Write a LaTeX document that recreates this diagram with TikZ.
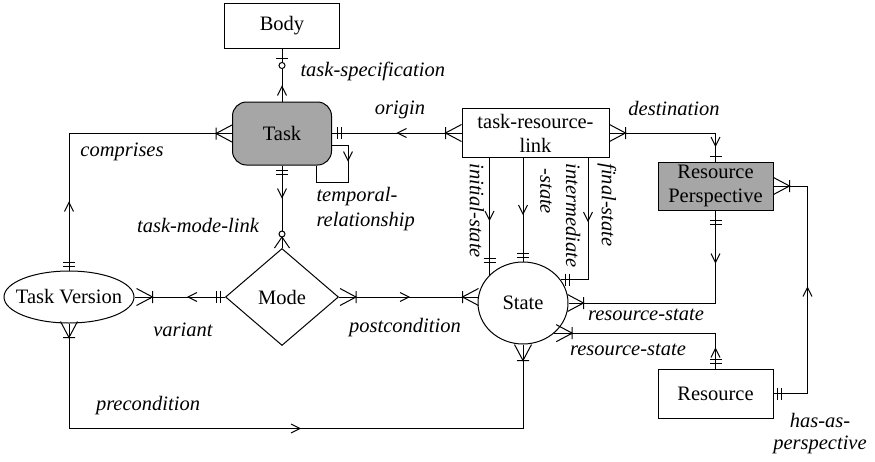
\documentclass[tikz,border=0pt]{standalone}
\usepackage{fontspec}
\setmainfont{Liberation Serif}
\usetikzlibrary{shapes.geometric,decorations.markings,calc}
% mark bodies (local x axis = path direction)
\newcommand{\crowF}{\draw (0pt,-6pt)--(0pt,6pt) (16pt,8.5pt)--(0pt,0pt)--(16pt,-8.5pt);}
\newcommand{\crowB}{\draw (0pt,-6pt)--(0pt,6pt) (-16pt,8.5pt)--(0pt,0pt)--(-16pt,-8.5pt);}
\newcommand{\fanF}{\draw (11pt,7.5pt)--(0pt,0pt)--(11pt,-7.5pt);}
\newcommand{\dbarM}{\draw (0pt,-6pt)--(0pt,6pt) (4pt,-6pt)--(4pt,6pt);}
\newcommand{\barM}{\draw (0pt,-6pt)--(0pt,6pt);}
\newcommand{\chevM}{\draw (-9pt,4.5pt)--(0pt,0pt)--(-9pt,-4.5pt);}
\newcommand{\circM}{\draw[fill=white] (0pt,0pt) circle (3pt);}
\begin{document}
\begin{tikzpicture}[x=1pt,y=-1pt,line width=1pt,
  ent/.style={draw,line width=1pt,inner sep=0pt,align=center,font=\fontsize{20.5}{24}\selectfont},
  lbl/.style={inner sep=0pt,font=\itshape\fontsize{20.5}{24}\selectfont},
  mk/.style={postaction={decorate,decoration={markings,mark=#1}}}]
\useasboundingbox (0,0) rectangle (875,461);

% entities
\node[ent,minimum width=115pt,minimum height=45pt] (body) at (282,25.5) {Body};
\node[ent,fill=black!35,rounded corners=14pt,minimum width=99pt,minimum height=63pt] (task) at (282,133.5) {Task};
\node[ent,minimum width=147pt,minimum height=49pt] (trl) at (535.5,133) {task-resource-\\link};
\node[ent,fill=black!35,minimum width=115pt,minimum height=48pt] (rp) at (715.5,186) {Resource\\Perspective};
\node[ent,minimum width=115pt,minimum height=49pt] (res) at (715.5,393.5) {Resource};
\node[ent,diamond,aspect=1.165,minimum width=113pt,minimum height=97pt] (mode) at (282,297) {Mode};
\node[ent,ellipse,minimum width=130pt,minimum height=52pt] (tv) at (69,297) {\makebox[0pt]{Task Version}};
\node[ent,ellipse,minimum width=90pt,minimum height=82pt] (state) at (523,303) {State};

% connectors
\draw[mk={at position 15pt with {\chevM}},mk={at position -10pt with {\barM}},mk={at position -17pt with {\circM}}]
  (task.north) -- (body.south);
\draw[mk={at position 5pt with {\dbarM}},mk={at position 32pt with {\chevM}},mk={at position -14pt with {\circM}},mk={at position -11pt with {\fanF}}]
  (task.south) -- (mode.north);
\draw[mk={at position 16pt with {\crowB}},mk={at position 64pt with {\chevM}},mk={at position -9pt with {\dbarM}}]
  (trl.west) -- (trl.west -| task.east);
\draw[mk={at position 4pt with {\dbarM}},mk={at position 68pt with {\chevM}},mk={at position -16pt with {\crowF}}]
  (tv.north) |- (task.west);
\draw[mk={at position 5pt with {\dbarM}},mk={at position 37pt with {\chevM}},mk={at position -18pt with {\crowF}}]
  (mode.west) -- (tv.east);
\draw[mk={at position 17pt with {\crowB}},mk={at position 70pt with {\chevM}},mk={at position -15pt with {\crowF}}]
  (mode.east) -- (mode.east -| state.west);
\draw[mk={at position 14pt with {\crowB}},mk={at position 336pt with {\chevM}},mk={at position -16pt with {\crowF}}]
  (tv.south) |- ([yshift=-84pt]state.south) -- (state.south);
\draw[mk={at position 31pt with {\chevM}}]
  ([yshift=-12pt]task.east) -- ++(16,0) |- ($(task.south)+(34,17)$) -- ($(task.south)+(34,0)$);
\draw[mk={at position 16pt with {\crowB}},mk={at position 119pt with {\chevM}},mk={at position -5pt with {\barM}}]
  (trl.east) -| (rp.north);
\draw[mk={at position 62pt with {\chevM}},mk={at position -16pt with {\dbarM}}]
  (state.140 |- trl.south) -- (state.140);
\draw[mk={at position 56pt with {\chevM}},mk={at position -8pt with {\dbarM}}]
  (state.north |- trl.south) -- (state.north);
\draw[mk={at position 63pt with {\chevM}},mk={at position -9pt with {\dbarM}}]
  ([xshift=52.5pt]trl.south) |- (state.32);
\draw[mk={at position 10pt with {\dbarM}},mk={at position 52pt with {\chevM}},mk={at position -15pt with {\crowF}}]
  (rp.south) |- (state.east);
\draw[mk={at position 5pt with {\dbarM}},mk={at position 20pt with {\chevM}},mk={at position -18pt with {\crowF}}]
  (res.north) |- (state.-44);
\draw[mk={at position 4pt with {\dbarM}},mk={at position 140pt with {\chevM}},mk={at position -16pt with {\crowF}}]
  (res.east) -- ++(34,0) |- (rp.east);

% labels
\node[lbl,anchor=west] (l1) at (300,71) {task-specification};
\node[lbl] (l2) at (400,110) {origin};
\node[lbl] (l3) at (674,108) {destination};
\node[lbl] (l4) at (122,152) {comprises};
\node[lbl] (l5) at (198,225) {task-mode-link};
\node[lbl,anchor=west] (l6) at (316,197) {temporal-};
\node[lbl,anchor=west] (l7) at (316,222) {relationship};
\node[lbl] (l8) at (183,330) {variant};
\node[lbl] (l9) at (405,328) {postcondition};
\node[lbl] (l10) at (148,406) {precondition};
\node[lbl] (l11) at (646,315) {resource-state};
\node[lbl] (l12) at (628,350) {resource-state};
\node[lbl] (l13) at (820,420) {has-as-};
\node[lbl] (l14) at (820,445) {perspective};
\node[lbl,rotate=-90,anchor=west] (l15) at (477,163) {initial-state};
\node[lbl,rotate=-90,anchor=west] (l16) at (573,163) {intermediate};
\node[lbl,rotate=-90,anchor=west] (l17) at (546,168) {-state};
\node[lbl,rotate=-90,anchor=west] (l18) at (607,163) {final-state};
\end{tikzpicture}
\end{document}
